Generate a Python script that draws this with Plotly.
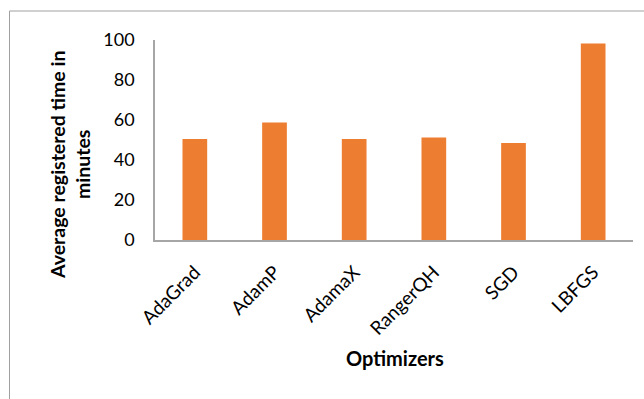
import plotly.graph_objects as go

categories = ["AdaGrad", "AdamP", "AdamaX", "RangerQH", "SGD", "LBFGS"]
values = [50.5, 58.8, 50.5, 51.2, 48.5, 98.3]
y_ticks = [0, 20, 40, 60, 80, 100]

W, H = 644, 399
L, R, T, B = 155, 11, 40, 159
pw, ph = W - L - R, H - T - B

def px(x):
    return (x - L) / pw

def py(y):
    return (H - B - y) / ph

fig = go.Figure(go.Bar(x=categories, y=values, marker=dict(color="#ED7D31", line=dict(width=0)), width=0.31))

font = "Lato, 'Open Sans', sans-serif"
fig.update_layout(
    width=W, height=H, margin=dict(l=L, r=R, t=T, b=B),
    paper_bgcolor="white", plot_bgcolor="white",
    font=dict(family=font, size=17, color="#000000"),
    showlegend=False,
    xaxis=dict(tickangle=-45, showline=True, linecolor="#A6A6A6", linewidth=1.5,
               showgrid=False, ticks="", ticklabelstandoff=12, zeroline=False,
               tickfont=dict(size=19)),
    yaxis=dict(range=[0, 100], tickvals=y_ticks, showline=True, linecolor="#A6A6A6",
               linewidth=1.5, showgrid=False, ticks="", ticklabelstandoff=15, zeroline=False,
               tickfont=dict(size=18)),
    annotations=[
        dict(text="<b>Average registered time in<br>minutes</b>", xref="paper", yref="paper",
             x=px(70), y=py(165), textangle=-90, showarrow=False,
             font=dict(family=font, size=19.5), xanchor="center", yanchor="middle"),
        dict(text="<b>Optimizers</b>", xref="paper", yref="paper",
             x=px(395), y=py(358), showarrow=False,
             font=dict(family=font, size=20), xanchor="center", yanchor="middle"),
    ],
    shapes=[dict(type="rect", xref="paper", yref="paper",
                 x0=px(9.5), x1=px(660), y0=py(11), y1=py(420),
                 line=dict(color="#A0A0A0", width=1), layer="below")],
)

fig.write_html("out.html")
